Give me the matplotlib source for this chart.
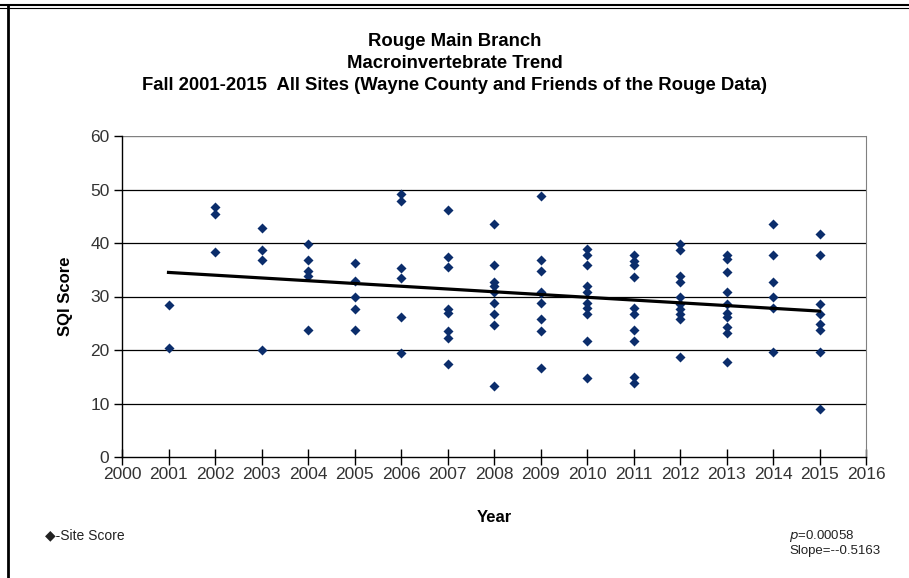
import numpy as np
import matplotlib
matplotlib.use("Agg")
import matplotlib.pyplot as plt
from matplotlib.lines import Line2D

plt.rcParams['font.family'] = ['Liberation Sans', 'DejaVu Sans']

# site scores per fall sampling year
years = [2001, 2002, 2003, 2004, 2005, 2006, 2007, 2008,
         2009, 2010, 2011, 2012, 2013, 2014, 2015]
scores = [
    [28.4, 20.3],
    [46.75, 45.4, 38.25],
    [42.8, 38.6, 36.9, 20.0],
    [39.75, 36.8, 34.7, 33.75, 23.7],
    [36.25, 32.9, 30.0, 27.7, 23.7],
    [49.1, 47.8, 35.4, 33.4, 26.25, 19.5],
    [46.1, 37.4, 35.6, 27.6, 26.9, 23.6, 22.2, 17.3],
    [43.6, 35.9, 32.8, 31.9, 30.75, 28.7, 26.75, 24.7, 13.25],
    [48.75, 36.8, 34.7, 30.9, 30.6, 28.7, 25.8, 23.6, 16.7],
    [38.9, 37.8, 35.9, 31.9, 30.75, 28.75, 27.8, 26.7, 21.7, 14.7],
    [37.8, 36.7, 35.9, 33.6, 27.8, 26.7, 23.7, 21.7, 14.9, 13.9],
    [39.9, 38.6, 33.75, 32.7, 29.9, 28.6, 27.7, 26.75, 25.75, 18.6],
    [37.8, 37.1, 34.5, 30.9, 28.6, 26.9, 26.1, 24.25, 23.25, 17.8],
    [43.6, 37.75, 32.75, 29.9, 27.9, 19.7],
    [41.7, 37.75, 28.6, 26.7, 24.8, 23.7, 19.7, 8.9],
]

# linear trend
slope = -0.5163
trend_start = 34.5   # fitted score at the first year
p_value = "0.00058"

x_ticks = list(range(2000, 2017))
y_ticks = [0, 10, 20, 30, 40, 50, 60]

xs = np.concatenate([[yr] * len(s) for yr, s in zip(years, scores)])
ys = np.concatenate(scores)

fig = plt.figure(figsize=(9.09, 5.78), dpi=100)
ax = fig.add_axes([122 / 909, 1 - 457 / 578, 744 / 909, 321 / 578])

for y in y_ticks[1:-1]:
    ax.axhline(y, color='black', lw=0.9, zorder=1)
ax.axhline(60, color='#808080', lw=1.0, zorder=1)

ax.scatter(xs, ys, marker='D', s=26, color='#0b2d6b', zorder=3, linewidths=0)

tx = np.array([years[0], years[-1]])
ax.plot(tx, trend_start + slope * (tx - years[0]), color='black', lw=2.3, zorder=4)

ax.set_xlim(2000, 2016)
ax.set_ylim(0, 60)
ax.set_xticks(x_ticks)
ax.set_yticks(y_ticks)
ax.tick_params(axis='x', direction='inout', length=12, width=1, labelsize=12.5,
               colors='black', pad=1)
ax.tick_params(axis='y', direction='out', length=6, width=1, labelsize=12.5, pad=3)
for lab in ax.get_xticklabels() + ax.get_yticklabels():
    lab.set_color('#333333')

ax.spines['top'].set_visible(False)
ax.spines['right'].set_color('#808080')
ax.spines['left'].set_linewidth(1.0)
ax.spines['bottom'].set_linewidth(1.0)

ax.set_xlabel("Year", fontsize=12, fontweight='bold', labelpad=20)
ax.set_ylabel("SQI Score", fontsize=12, fontweight='bold', labelpad=12)

title_lines = ["Rouge Main Branch",
               "Macroinvertebrate Trend",
               "Fall 2001-2015  All Sites (Wayne County and Friends of the Rouge Data)"]
for i, line in enumerate(title_lines):
    fig.text(0.5, 1 - (41 + 22 * i) / 578, line, ha='center', va='center',
             fontsize=13.3, fontweight='bold')

# legend and stats text
fig.text(45 / 909, 1 - 535 / 578, "\u25c6-Site Score", ha='left', va='center',
         fontsize=10, family=['Liberation Sans', 'DejaVu Sans'], color='#222222')
fig.text(789 / 909, 1 - 536 / 578, r"$\it{p}$=" + p_value, ha='left', va='center',
         fontsize=9.5, color='#222222')
fig.text(789 / 909, 1 - 551 / 578, "Slope=-" + str(slope), ha='left', va='center',
         fontsize=9.5, color='#222222')

# outer frame
fig.add_artist(Line2D([0, 1], [1 - 5 / 578, 1 - 5 / 578], color='black', lw=1.5,
                      transform=fig.transFigure))
fig.add_artist(Line2D([0, 1], [1 - 8 / 578, 1 - 8 / 578], color='black', lw=0.8,
                      transform=fig.transFigure))
fig.add_artist(Line2D([8 / 909, 8 / 909], [0, 1 - 5 / 578], color='black', lw=2.0,
                      transform=fig.transFigure))

fig.savefig("out.png", dpi=100)
